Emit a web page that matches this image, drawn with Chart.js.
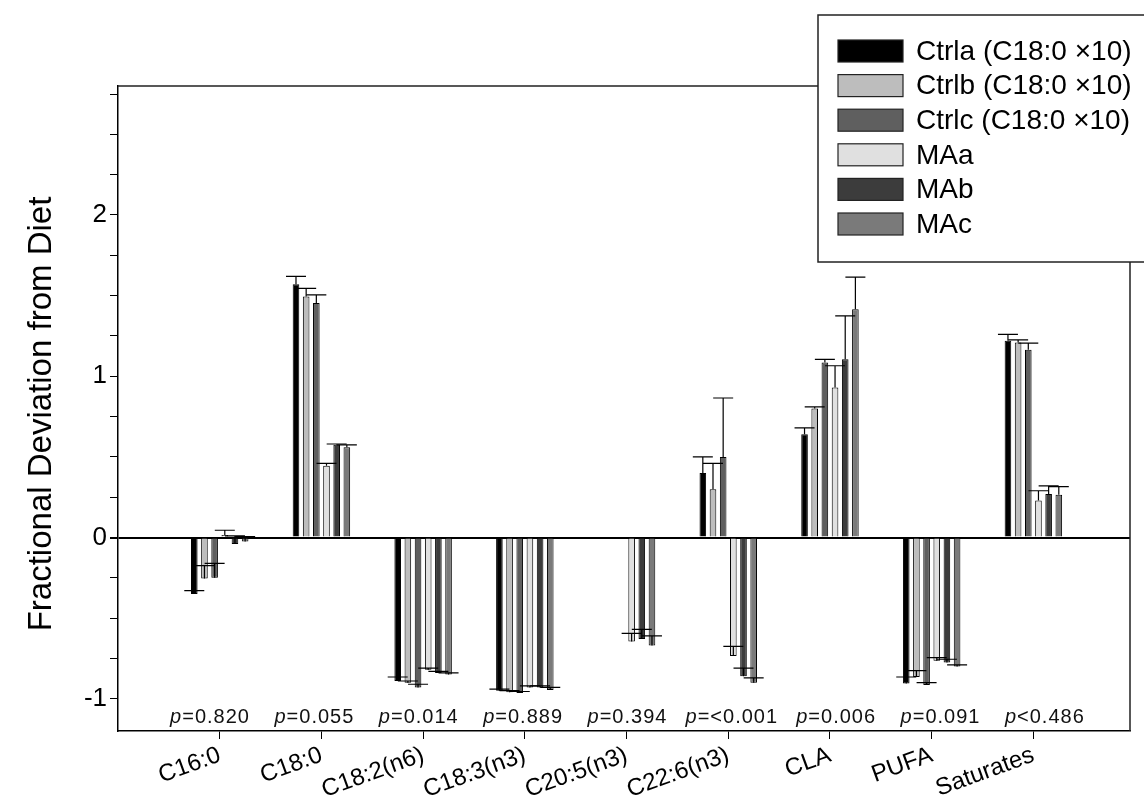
<!DOCTYPE html>
<html><head><meta charset="utf-8">
<script src="https://cdn.jsdelivr.net/npm/chart.js@4.4.1/dist/chart.umd.min.js"></script>
<style>html,body{margin:0;padding:0;background:#fff;}#wrap{width:1144px;height:801px;position:relative;}</style>
</head><body><div id="wrap"><canvas id="c"></canvas></div>
<script>
const categories = ['C16:0','C18:0','C18:2(n6)','C18:3(n3)','C20:5(n3)','C22:6(n3)','CLA','PUFA','Saturates'];
const pValues = ['p=0.820','p=0.055','p=0.014','p=0.889','p=0.394','p=<0.001','p=0.006','p=0.091','p<0.486'];
const yTickValues = [-1,-0.75,-0.5,-0.25,0,0.25,0.5,0.75,1,1.25,1.5,1.75,2,2.25,2.5,2.75];

const seriesNames = ['Ctrla (C18:0 \u00d710)','Ctrlb (C18:0 \u00d710)','Ctrlc (C18:0 \u00d710)','MAa','MAb','MAc'];
const ctrla    = [-0.35, 1.57, -0.89, -0.95, null, 0.40, 0.64, -0.905, 1.22];
const ctrlaErr = [0.02, 0.05, 0.025, 0.01, null, 0.10, 0.04, 0.04, 0.04];
const ctrlb    = [-0.255, 1.495, -0.90, -0.96, null, 0.30, 0.80, -0.865, 1.21];
const ctrlbErr = [0.08, 0.05, 0.01, 0.01, null, 0.16, 0.01, 0.04, 0.015];
const ctrlc    = [-0.25, 1.455, -0.93, -0.965, null, 0.50, 1.085, -0.915, 1.165];
const ctrlcErr = [0.09, 0.05, 0.02, 0.01, null, 0.365, 0.02, 0.015, 0.04];
const maa      = [0.015, 0.445, -0.82, -0.93, -0.645, -0.735, 0.93, -0.765, 0.23];
const maaErr   = [0.03, 0.015, 0.01, 0.01, 0.05, 0.06, 0.135, 0.02, 0.06];
const mab      = [-0.04, 0.575, -0.84, -0.93, -0.63, -0.86, 1.105, -0.775, 0.27];
const mabErr   = [0.05, 0.005, 0.01, 0.01, 0.06, 0.05, 0.27, 0.02, 0.05];
const mac      = [-0.025, 0.56, -0.85, -0.945, -0.67, -0.90, 1.415, -0.80, 0.265];
const macErr   = [0.03, 0.015, 0.01, 0.015, 0.06, 0.03, 0.2, 0.01, 0.05];

const colors = ['#000000','#bdbdbd','#5f5f5f','#e0e0e0','#3c3c3c','#7a7a7a'];
const values = [ctrla, ctrlb, ctrlc, maa, mab, mac];
const errors = [ctrlaErr, ctrlbErr, ctrlcErr, maaErr, mabErr, macErr];

const FONT = '"Liberation Sans", Arial, sans-serif';

const datasets = values.map((vals, i) => ({
  label: seriesNames[i],
  data: vals.map((v, k) => ({x: k + 1, y: v})),
  errors: errors[i],
  backgroundColor: colors[i],
  borderColor: '#000',
  borderWidth: 1,
  categoryPercentage: 0.6,
  barPercentage: 0.65
}));

const framePlugin = {
  id: 'frame',
  beforeDatasetsDraw(chart) {
    const {ctx, chartArea: a} = chart;
    ctx.save();
    ctx.strokeStyle = '#222';
    ctx.lineWidth = 1.5;
    ctx.beginPath();
    ctx.moveTo(a.left, a.top); ctx.lineTo(a.right, a.top); ctx.lineTo(a.right, a.bottom);
    ctx.stroke();
    ctx.restore();
  }
};

const errorPlugin = {
  id: 'errbars',
  afterDatasetsDraw(chart) {
    const {ctx} = chart;
    const ys = chart.scales.y;
    ctx.save();
    ctx.strokeStyle = '#000';
    ctx.lineWidth = 1.2;
    chart.data.datasets.forEach((ds, i) => {
      const meta = chart.getDatasetMeta(i);
      meta.data.forEach((bar, j) => {
        const v = ds.data[j].y, e = ds.errors[j];
        if (v == null || e == null) return;
        const y0 = ys.getPixelForValue(v), y1 = ys.getPixelForValue(v + e);
        ctx.beginPath();
        ctx.moveTo(bar.x, y0); ctx.lineTo(bar.x, y1);
        ctx.moveTo(bar.x - 10, y1); ctx.lineTo(bar.x + 10, y1);
        ctx.stroke();
      });
    });
    ctx.restore();
  }
};

const textPlugin = {
  id: 'texts',
  afterDraw(chart) {
    const {ctx} = chart;
    const xs = chart.scales.x, ys = chart.scales.y;
    ctx.save();
    // p-values
    const py = ys.getPixelForValue(-1.115);
    ctx.fillStyle = '#111';
    ctx.textBaseline = 'middle';
    pValues.forEach((t, k) => {
      const cx = xs.getPixelForValue(k + 0.905 + k * 0.026);
      ctx.letterSpacing = '1px';
      ctx.font = 'italic 20px ' + FONT;
      const w1 = ctx.measureText(t[0]).width;
      ctx.font = '20px ' + FONT;
      const w2 = ctx.measureText(t.slice(1)).width;
      let x = cx - (w1 + w2) / 2;
      ctx.textAlign = 'left';
      ctx.font = 'italic 20px ' + FONT;
      ctx.fillText(t[0], x, py);
      ctx.font = '20px ' + FONT;
      ctx.fillText(t.slice(1), x + w1, py);
    });
    ctx.letterSpacing = '0px';
    // y title
    ctx.save();
    ctx.translate(42, 414);
    ctx.rotate(-Math.PI / 2);
    ctx.textAlign = 'center';
    ctx.textBaseline = 'middle';
    ctx.fillStyle = '#000';
    ctx.font = '33px ' + FONT;
    ctx.fillText('Fractional Deviation from Diet', 0, 0);
    ctx.restore();
    // legend
    ctx.fillStyle = '#fff';
    ctx.fillRect(818, 15, 340, 247);
    ctx.strokeStyle = '#222';
    ctx.lineWidth = 1.5;
    ctx.strokeRect(818, 15, 340, 247);
    ctx.font = '28px ' + FONT;
    ctx.textAlign = 'left';
    ctx.textBaseline = 'middle';
    chart.data.datasets.forEach((ds, i) => {
      const cy = 51 + i * 34.6;
      ctx.fillStyle = ds.backgroundColor;
      ctx.fillRect(838, cy - 11, 65, 22);
      ctx.strokeStyle = '#222';
      ctx.lineWidth = 1.2;
      ctx.strokeRect(838, cy - 11, 65, 22);
      ctx.fillStyle = '#000';
      ctx.fillText(ds.label, 916, cy + 1);
    });
    ctx.restore();
  }
};

new Chart(document.getElementById('c'), {
  type: 'bar',
  data: {datasets},
  plugins: [framePlugin, errorPlugin, textPlugin],
  options: {
    responsive: true,
    maintainAspectRatio: false,
    animation: false,
    layout: {padding: {top: 86, right: 14, bottom: 0, left: 0}},
    plugins: {legend: {display: false}, tooltip: {enabled: false}},
    scales: {
      x: {
        type: 'linear',
        offset: false,
        min: 0, max: 9.95,
        afterBuildTicks(scale) { scale.ticks = categories.map((c, k) => ({value: k + 1})); },
        afterFit(scale) { scale.height = 70; },
        ticks: {
          autoSkip: false, maxRotation: 20, minRotation: 20, padding: 2,
          color: '#000', font: {family: FONT, size: 24},
          callback: (v) => categories[Math.round(v) - 1]
        },
        grid: {offset: false, drawOnChartArea: false, drawTicks: true, tickLength: 8, tickColor: '#000'},
        border: {display: true, color: '#000', width: 1.5}
      },
      y: {
        min: -1.2, max: 2.8,
        afterBuildTicks(scale) { scale.ticks = yTickValues.map(v => ({value: v})); },
        afterFit(scale) { scale.width = 118; },
        ticks: {
          padding: 3, color: '#000', font: {family: FONT, size: 26},
          callback: (v) => Number.isInteger(v) ? String(v) : ''
        },
        grid: {
          drawOnChartArea: true, drawTicks: true, tickLength: 8, tickColor: '#000',
          color: (c) => c.tick && c.tick.value === 0 ? '#000' : 'rgba(0,0,0,0)',
          lineWidth: (c) => c.tick && c.tick.value === 0 ? 2 : 1
        },
        border: {display: true, color: '#000', width: 1.5}
      }
    }
  }
});
</script></body></html>
